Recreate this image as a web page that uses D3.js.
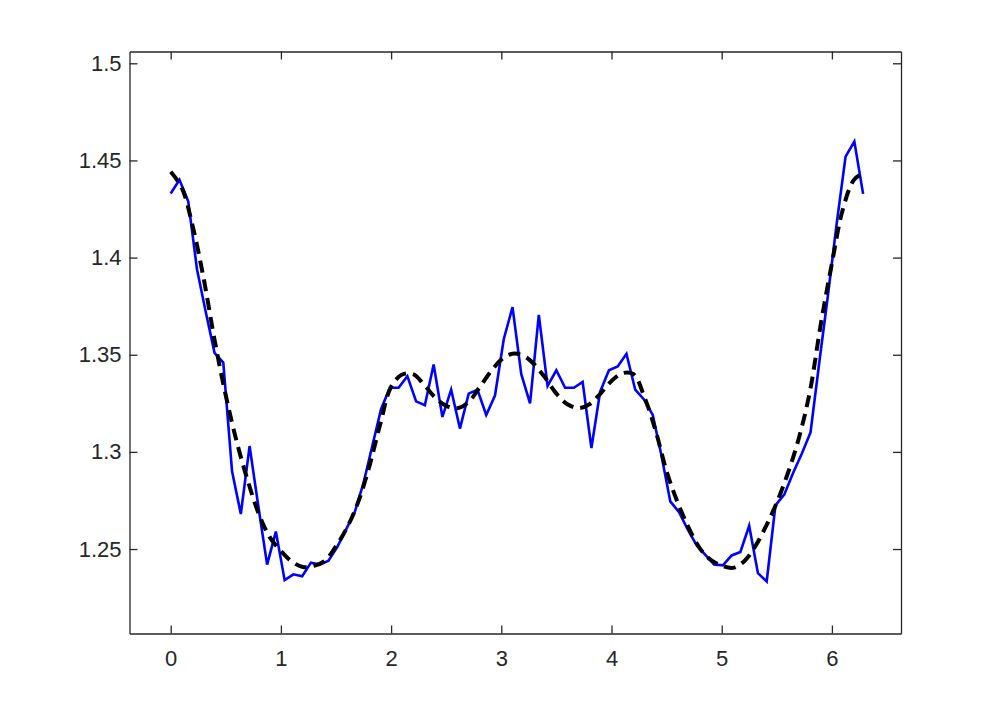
<!DOCTYPE html>
<html>
<head>
<meta charset="utf-8">
<script src="https://cdn.jsdelivr.net/npm/d3@7"></script>
<style>
  html, body { margin: 0; padding: 0; background: #fff; }
  svg { display: block; }
  .axis text { font-family: "Liberation Sans", Arial, Helvetica, sans-serif; font-size: 22px; fill: #262626; }
  .axis path, .axis line { stroke: #262626; stroke-width: 1.3px; }
</style>
</head>
<body>
<svg id="chart" width="997" height="713"></svg>
<script>
// ---- data ----
const sampleX = [0, 0.0795, 0.1591, 0.2386, 0.3181, 0.3977, 0.4772, 0.5567, 0.6363, 0.7158,
  0.7953, 0.8749, 0.9544, 1.0339, 1.1135, 1.1930, 1.2725, 1.3521, 1.4316, 1.5111,
  1.5907, 1.6702, 1.7497, 1.8293, 1.9088, 1.9883, 2.0679, 2.1474, 2.2269, 2.3064,
  2.3860, 2.4655, 2.5450, 2.6246, 2.7041, 2.7836, 2.8632, 2.9427, 3.0222, 3.1018,
  3.1813, 3.2608, 3.3404, 3.4199, 3.4994, 3.5790, 3.6585, 3.7380, 3.8176, 3.8971,
  3.9766, 4.0562, 4.1357, 4.2152, 4.2948, 4.3743, 4.4538, 4.5334, 4.6129, 4.6924,
  4.7720, 4.8515, 4.9310, 5.0106, 5.0901, 5.1696, 5.2492, 5.3287, 5.4082, 5.4878,
  5.5673, 5.6468, 5.7264, 5.8059, 5.8854, 5.9650, 6.0445, 6.1240, 6.2036, 6.2832];

const measured = [1.433, 1.440, 1.429, 1.394, 1.372, 1.351, 1.346, 1.290, 1.268, 1.303,
  1.272, 1.242, 1.259, 1.234, 1.237, 1.236, 1.243, 1.242, 1.244, 1.251,
  1.260, 1.269, 1.284, 1.303, 1.322, 1.333, 1.333, 1.339, 1.326, 1.324,
  1.345, 1.318, 1.332, 1.312, 1.330, 1.332, 1.319, 1.329, 1.358, 1.3745,
  1.340, 1.325, 1.3705, 1.334, 1.342, 1.333, 1.333, 1.336, 1.302, 1.331,
  1.342, 1.344, 1.3505, 1.332, 1.327, 1.319, 1.298, 1.2745, 1.269, 1.260,
  1.252, 1.247, 1.242, 1.2416, 1.2467, 1.2485, 1.262, 1.2376, 1.2333, 1.2725,
  1.278, 1.289, 1.299, 1.310, 1.346, 1.381, 1.418, 1.452, 1.4597, 1.4328];

const fitX = [0, 0.1, 0.2, 0.3, 0.4, 0.5, 0.6, 0.7, 0.8, 0.9,
  1.0, 1.1, 1.2, 1.3, 1.4, 1.5, 1.6, 1.7, 1.8, 1.9,
  2.0, 2.1, 2.2, 2.3, 2.4, 2.5, 2.6, 2.7, 2.8, 2.9,
  3.0, 3.1, 3.2, 3.3, 3.4, 3.5, 3.6, 3.7, 3.8, 3.9,
  4.0, 4.1, 4.2, 4.3, 4.4, 4.5, 4.6, 4.7, 4.8, 4.9,
  5.0, 5.1, 5.2, 5.3, 5.4, 5.5, 5.6, 5.7, 5.8, 5.9,
  6.0, 6.1, 6.2, 6.2832];

const fitted = [1.4442, 1.436, 1.416, 1.389, 1.357, 1.329, 1.305, 1.285, 1.268, 1.256,
  1.249, 1.2435, 1.2408, 1.2414, 1.244, 1.2515, 1.261, 1.274, 1.292, 1.314,
  1.3335, 1.3398, 1.340, 1.3345, 1.328, 1.3237, 1.3225, 1.3255, 1.333, 1.341,
  1.3475, 1.3505, 1.3495, 1.345, 1.338, 1.330, 1.3245, 1.3225, 1.3245, 1.330,
  1.3365, 1.3405, 1.340, 1.328, 1.311, 1.290, 1.274, 1.261, 1.2505, 1.2445,
  1.2415, 1.2403, 1.2435, 1.251, 1.2615, 1.274, 1.289, 1.307, 1.331, 1.366,
  1.397, 1.425, 1.440, 1.4435];

const xTicks = [0, 1, 2, 3, 4, 5, 6];
const yTicks = [1.25, 1.3, 1.35, 1.4, 1.45, 1.5];
const xDomain = [-0.3739, 6.627];
const yDomain = [1.20653, 1.50607];

// ---- layout ----
const plotLeft = 129.5, plotRight = 901, plotTop = 51.5, plotBottom = 633.5;
const svg = d3.select("#chart");

const x = d3.scaleLinear().domain(xDomain).range([plotLeft, plotRight]);
const y = d3.scaleLinear().domain(yDomain).range([plotBottom, plotTop]);

// data lines
const blueLine = d3.line().x((d, i) => x(sampleX[i])).y(d => y(d));
svg.append("path")
  .datum(measured)
  .attr("d", blueLine)
  .attr("fill", "none")
  .attr("stroke", "#0000ff")
  .attr("stroke-width", 2.6)
  .attr("stroke-linejoin", "miter")
  .attr("stroke-miterlimit", 4);

const fitLine = d3.line().x((d, i) => x(fitX[i])).y(d => y(d)).curve(d3.curveCatmullRom);
svg.append("path")
  .datum(fitted)
  .attr("d", fitLine)
  .attr("fill", "none")
  .attr("stroke", "#000")
  .attr("stroke-width", 4)
  .attr("stroke-dasharray", "12,7");

// axes (ticks point inward, box on)
const fmt = d => String(d);
svg.append("g").attr("class", "axis")
  .attr("transform", `translate(0,${plotBottom})`)
  .call(d3.axisBottom(x).tickValues(xTicks).tickFormat(fmt).tickSizeInner(-8).tickSizeOuter(0).tickPadding(17));
svg.append("g").attr("class", "axis")
  .attr("transform", `translate(0,${plotTop})`)
  .call(d3.axisTop(x).tickValues(xTicks).tickFormat("").tickSizeInner(-8).tickSizeOuter(0));
svg.append("g").attr("class", "axis")
  .attr("transform", `translate(${plotLeft},0)`)
  .call(d3.axisLeft(y).tickValues(yTicks).tickFormat(fmt).tickSizeInner(-8).tickSizeOuter(0).tickPadding(8));
svg.append("g").attr("class", "axis")
  .attr("transform", `translate(${plotRight},0)`)
  .call(d3.axisRight(y).tickValues(yTicks).tickFormat("").tickSizeInner(-8).tickSizeOuter(0));

svg.selectAll(".axis .domain").attr("stroke", "#262626").attr("stroke-width", 1.3);
svg.selectAll(".axis text").attr("fill", "#262626");
</script>
</body>
</html>
